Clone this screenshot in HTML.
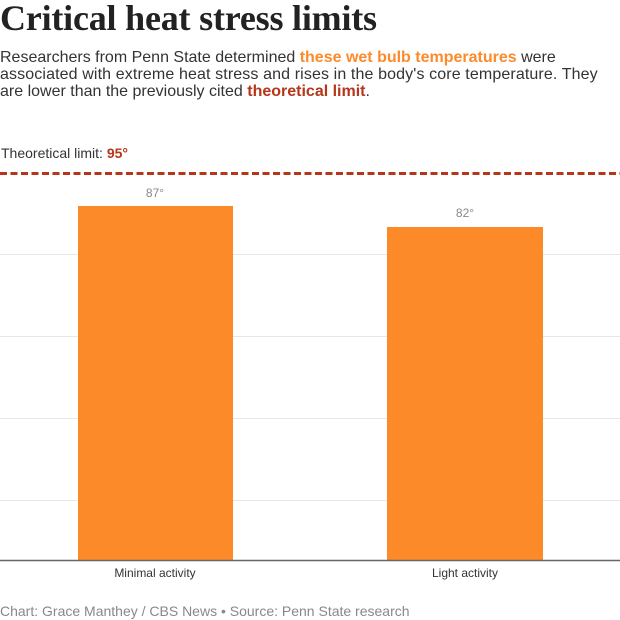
<!DOCTYPE html>
<html><head><meta charset="utf-8"><style>
html,body{margin:0;padding:0;background:#fff;}
body{width:620px;height:620px;position:relative;overflow:hidden;font-family:"Liberation Sans",Arial,sans-serif;}
.abs{position:absolute;white-space:nowrap;}
#title{left:0;top:0;font-family:"Liberation Serif",serif;font-weight:bold;font-size:36px;line-height:36px;color:#222;letter-spacing:-0.2px;}
#sub{left:0;top:49px;font-size:16px;line-height:17px;color:#333;}
.or{color:#fd8a2b;font-weight:bold;}
.rd{color:#b5361a;font-weight:bold;}
#lim{left:1px;top:145px;font-size:14px;line-height:16px;color:#333;}
.val{font-size:12px;line-height:14px;color:#888;width:100px;text-align:center;}
.cat{font-size:12px;line-height:14px;color:#333;width:160px;text-align:center;}
#foot{left:0;top:604px;font-size:14px;line-height:14px;color:#888;}
</style></head><body>
<div id="title" class="abs">Critical heat stress limits</div>
<div id="sub" class="abs">Researchers from Penn State determined <span class="or">these wet bulb temperatures</span> were<br><span style="letter-spacing:0.12px">associated with extreme heat stress and rises in the body's core temperature. They</span><br>are lower than the previously cited <span class="rd">theoretical limit</span>.</div>
<div id="lim" class="abs">Theoretical limit: <span class="rd">95°</span></div>
<svg class="abs" style="left:0;top:0" width="620" height="620" xmlns="http://www.w3.org/2000/svg">
<g stroke="#e6e6e6" stroke-width="1">
<line x1="0" y1="254.5" x2="620" y2="254.5"/>
<line x1="0" y1="336.5" x2="620" y2="336.5"/>
<line x1="0" y1="418.5" x2="620" y2="418.5"/>
<line x1="0" y1="500.5" x2="620" y2="500.5"/>
</g>
<rect x="78" y="206" width="155" height="355" fill="#fd8a28"/>
<rect x="387" y="227" width="156" height="334" fill="#fd8a28"/>
<line x1="0" y1="560.5" x2="620" y2="560.5" stroke="#666" stroke-width="1.5"/>
<line x1="0" y1="173.5" x2="620" y2="173.5" stroke="#b5361a" stroke-width="3" stroke-dasharray="7 3.5"/>
</svg>
<div class="abs val" style="left:105px;top:186px;">87°</div>
<div class="abs val" style="left:415px;top:206px;">82°</div>
<div class="abs cat" style="left:75px;top:566px;">Minimal activity</div>
<div class="abs cat" style="left:385px;top:566px;">Light activity</div>
<div id="foot" class="abs">Chart: Grace Manthey / CBS News • Source: Penn State research</div>
</body></html>
